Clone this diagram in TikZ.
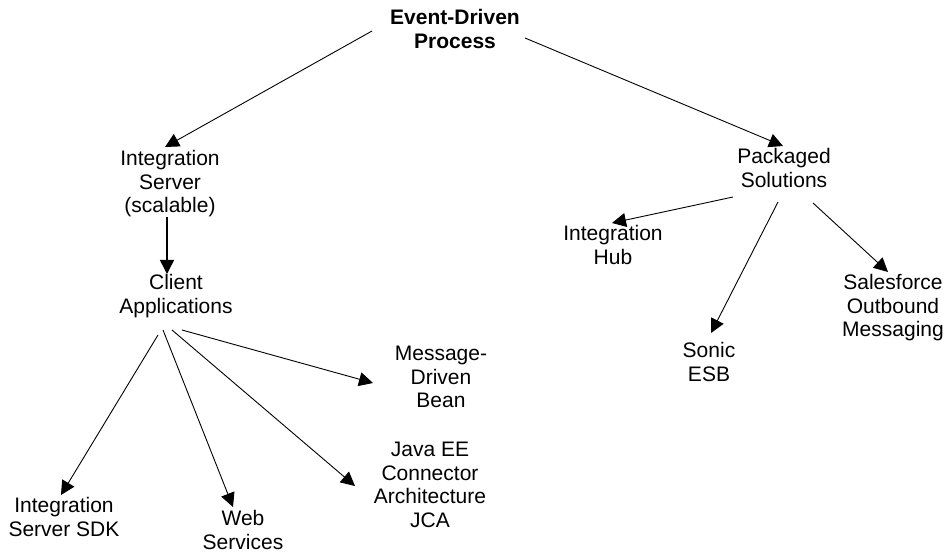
\documentclass[tikz,border=0pt]{standalone}
\usepackage{fontspec}
\setmainfont{Liberation Sans}
\usetikzlibrary{arrows.meta,calc}
\begin{document}
\begin{tikzpicture}[x=1pt,y=-1pt,
  lbl/.style={align=center,inner sep=0pt,font=\fontsize{21}{23.5}\selectfont},
  arr/.style={line width=0.9pt,-{Triangle[length=14pt,width=14pt]}}]
\useasboundingbox[fill=white] (0,0) rectangle (948,553);
\node[lbl,font=\fontsize{21}{24}\selectfont\bfseries] (edp) at (455,29) {Event-Driven\\Process};
\node[lbl] (is) at (170,184) {Integration\\Server\\(scalable)};
\node[lbl] (ca) at (176,296) {Client\\Applications};
\node[lbl] (sdk) at (64,517) {Integration\\Server SDK};
\node[lbl] (ws) at (243,530) {Web\\Services};
\node[lbl] (jca) at (430,485) {Java EE\\Connector\\Architecture\\JCA};
\node[lbl] (mdb) at (441,377) {Message-\\Driven\\Bean};
\node[lbl] (ps) at (784,168) {Packaged\\Solutions};
\node[lbl] (ih) at (613,245) {Integration\\Hub};
\node[lbl] (es) at (709,362) {Sonic\\ESB};
\node[lbl] (sf) at (893,308) {Salesforce\\Outbound\\Messaging};
\draw[arr] ($(edp)+(-83,2)$) -- ($(is)+(-5,-37)$);
\draw[arr] ($(edp)+(70,9)$) -- ($(ps)+(-1,-22)$);
\draw[arr,line width=1.5pt] ($(is)+(-3,33)$) -- ($(ca)+(-9,-22)$);
\draw[arr] ($(ca)+(-18,39)$) -- ($(sdk)+(-3,-22)$);
\draw[arr] ($(ca)+(-13,34)$) -- ($(ws)+(-10,-23)$);
\draw[arr] ($(ca)+(-4,34)$) -- ($(jca)+(-75,1)$);
\draw[arr] ($(ca)+(6,34)$) -- ($(mdb)+(-68,6)$);
\draw[arr] ($(ps)+(-51,29)$) -- ($(ih)+(-1,-22)$);
\draw[arr] ($(ps)+(-6,34)$) -- ($(es)+(2,-29)$);
\draw[arr] ($(ps)+(29,35)$) -- ($(sf)+(-5,-36)$);
\end{tikzpicture}
\end{document}
